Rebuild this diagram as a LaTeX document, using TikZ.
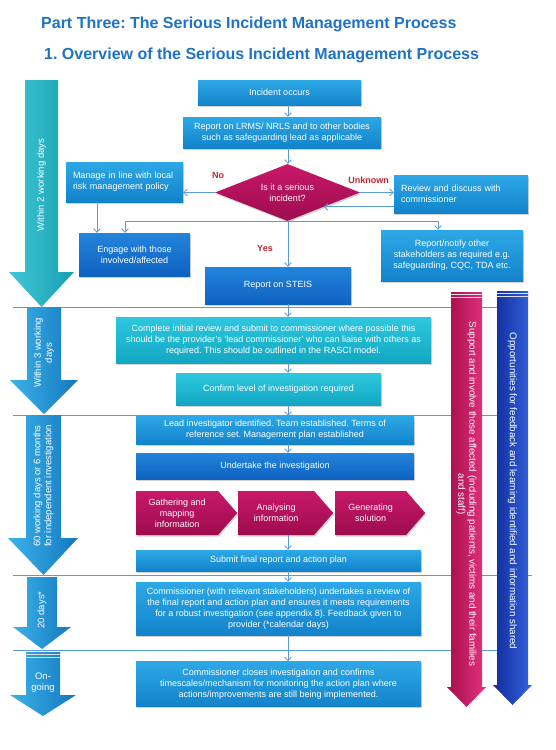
\documentclass[tikz,border=0pt]{standalone}
\usepackage{fontspec}
\setmainfont{Liberation Sans}
\usepackage{tikz}
\usetikzlibrary{positioning,shapes.geometric,shapes.symbols,arrows.meta,shadows}
\definecolor{SITitle}{HTML}{1F73C4}
\definecolor{SILine}{HTML}{5B9BD5}
\definecolor{SIRed}{HTML}{C0282D}
\definecolor{SIBlueTop}{HTML}{2DA8E6}
\definecolor{SIBlueBot}{HTML}{1283CB}
\definecolor{SIDeepTop}{HTML}{2384DC}
\definecolor{SIDeepBot}{HTML}{0E62C0}
\definecolor{SITealTop}{HTML}{2EC8DE}
\definecolor{SITealBot}{HTML}{12A6C2}
\definecolor{SICrimTop}{HTML}{C8186A}
\definecolor{SICrimBot}{HTML}{9E0C4C}
\definecolor{SIArrTealL}{HTML}{40C6D6}
\definecolor{SIArrTealR}{HTML}{17A0B3}
\definecolor{SIArrBlueL}{HTML}{3CB2E8}
\definecolor{SIArrBlueR}{HTML}{1478C0}
\definecolor{SIMagL}{HTML}{A50D4A}
\definecolor{SIMagM}{HTML}{B81254}
\definecolor{SIMagR}{HTML}{E5327F}
\definecolor{SIRoyL}{HTML}{112C9C}
\definecolor{SIRoyM}{HTML}{1838AE}
\definecolor{SIRoyR}{HTML}{3463DE}
\frenchspacing

\begin{document}
\begin{tikzpicture}[x=1pt,y=-1pt,
    box/.style={rectangle, draw=none, text=white, align=center, inner sep=2pt,
      font=\fontsize{9}{11}\selectfont,
      drop shadow={shadow xshift=1pt,shadow yshift=-1.5pt,opacity=0.35}},
    bluebox/.style={box, top color=SIBlueTop, bottom color=SIBlueBot},
    deepbox/.style={box, top color=SIDeepTop, bottom color=SIDeepBot},
    tealbox/.style={box, top color=SITealTop, bottom color=SITealBot},
    crimbox/.style={box, top color=SICrimTop, bottom color=SICrimBot},
    chevron/.style={crimbox, signal, signal to=east, signal pointer angle=98,
      minimum height=44pt, anchor=west},
    flow/.style={draw=SILine, line width=0.8pt,
      -{Straight Barb[length=3.5pt,width=6.5pt]}},
    answer/.style={font=\fontsize{9}{10}\selectfont\bfseries, text=SIRed},
    sidetext/.style={text=white, align=center, inner sep=0pt,
      font=\fontsize{9.5}{11}\selectfont}
  ]
    \fill[white] (0,0) rectangle (556,750);
    \useasboundingbox (0,0) rectangle (556,750);

    \node[anchor=west, inner sep=0pt, text=SITitle,
      font=\fontsize{16}{18}\selectfont\bfseries] (title) at (41,24)
      {Part Three: The Serious Incident Management Process};
    \node[anchor=west, inner sep=0pt, text=SITitle,
      font=\fontsize{16}{18}\selectfont\bfseries] (subtitle) at (44,55)
      {1. Overview of the Serious Incident Management Process};

    % stage dividers
    \foreach \y/\e in {307/513,415/513,575/532,650/513}{
      \draw[SILine, line width=0.8pt] (13,\y)--(\e,\y);
    }

    % time arrows on the left
    \foreach \l/\r/\t/\s/\hl/\hr/\tip/\cl/\cr in {
        25/58/80/272/9/74/307/SIArrTealL/SIArrTealR,
        27/61/307/380/10/78/414/SIArrBlueL/SIArrBlueR,
        26/61/415/538/8/78/575/SIArrBlueL/SIArrBlueR,
        27/57/577/627/13/71/649/SIArrBlueL/SIArrBlueR,
        26/60/652/695/10/76/716/SIArrBlueL/SIArrBlueR}{
      \shade[left color=\cl, right color=\cr]
        (\l,\t)--(\r,\t)--(\r,\s)--(\hr,\s)--({(\l+\r)/2},\tip)
        --(\hl,\s)--(\l,\s)--cycle;
    }
    \foreach \y in {654,657}{
      \draw[white!75!gray, line width=1pt] (26,\y)--(60,\y);
    }
    \node[sidetext, rotate=90] (wk2) at (41.5,185) {Within 2 working days};
    \node[sidetext, rotate=90] (wk3) at (44,353) {Within 3 working\\days};
    \node[sidetext, rotate=90] (wk60) at (43.5,486)
      {60 working days or 6 months\\for independent investigation};
    \node[sidetext, rotate=90] (d20) at (42,610) {20 days*};
    \node[sidetext] (ongo) at (43,683) {On-\\going};

    % long arrows on the right
    \shade[left color=SIMagL, middle color=SIMagM, right color=SIMagR]
      (451,292)--(482,292)--(482,687)--(486,687)--(466.5,707)
      --(447,687)--(451,687)--cycle;
    \shade[left color=SIRoyL, middle color=SIRoyM, right color=SIRoyR]
      (497,291)--(528,291)--(528,685)--(532,685)--(512.5,705)
      --(493,685)--(497,685)--cycle;
    \foreach \y in {294,297}{
      \draw[white!75!gray, line width=1pt] (451,\y)--(482,\y);
      \draw[white!75!gray, line width=1pt] (497,\y-1)--(528,\y-1);
    }
    \node[sidetext, rotate=-90, font=\fontsize{9.8}{11}\selectfont] (support) at (466.5,494)
      {Support and involve those affected (including patients, victims and their families\\and staff)};
    \node[sidetext, rotate=-90, font=\fontsize{9.8}{11}\selectfont] (learn) at (512.5,491)
      {Opportunities for feedback and learning identified and information shared};

    % flow boxes
    \coordinate (spine) at (288,0);
    \node[bluebox, minimum width=163pt, minimum height=25pt] (inc) at (279.5,92.5)
      {Incident occurs};
    \node[bluebox, minimum width=198pt, minimum height=31pt] (lrms) at (282,132.5)
      {Report on LRMS/ NRLS and to other bodies\\such as safeguarding lead as applicable};
    \node[crimbox, diamond, aspect=2.5, inner sep=0pt, minimum width=145pt,
      minimum height=57pt] (dia) at (287.5,192.5) {Is it a serious\\incident?};
    \node[bluebox, align=left, inner xsep=7pt, text width=103pt,
      minimum height=40pt] (manage) at (124.5,182)
      {Manage in line with local\\risk management policy};
    \node[bluebox, align=left, inner xsep=7pt, text width=120pt,
      minimum height=38pt] (rdisc) at (461,194)
      {Review and discuss with\\commissioner};
    \node[deepbox, minimum width=111pt, minimum height=43pt] (engage) at (134.5,254.5)
      {Engage with those\\involved/affected};
    \node[bluebox, minimum width=142pt, minimum height=51pt] (notify) at (452,255.5)
      {Report/notify other\\stakeholders as required e.g.\\safeguarding, CQC, TDA etc.};
    \node[deepbox, minimum width=146pt, minimum height=37pt] (steis) at (278,285.5)
      {Report on STEIS};
    \node[tealbox, minimum width=315pt, minimum height=46pt] (complete) at (273.5,340)
      {Complete initial review and submit to commissioner where possible this\\
       should be the provider's `lead commissioner' who can liaise with others as\\
       required. This should be outlined in the RASCI model.};
    \node[tealbox, minimum width=205pt, minimum height=32pt] (confirm) at (278.5,389)
      {Confirm level of investigation required};
    \node[bluebox, minimum width=278pt, minimum height=28pt] (lead) at (275,430)
      {Lead investigator identified. Team established. Terms of\\
       reference set. Management plan established};
    \node[deepbox, minimum width=278pt, minimum height=26pt] (undertake) at (275,466)
      {Undertake the investigation};
    \node[chevron, minimum width=101pt] (chevA) at (136,513)
      {Gathering and\\mapping\\information};
    \node[chevron, minimum width=95pt] (chevB) at (238,513)
      {Analysing\\information};
    \node[chevron, minimum width=90pt] (chevC) at (335,513)
      {Generating\\solution};
    \node[bluebox, minimum width=285pt, minimum height=21pt] (submit) at (278.5,560.5)
      {Submit final report and action plan};
    \node[bluebox, minimum width=285pt, minimum height=53pt] (commrev) at (278.5,608.5)
      {Commissioner (with relevant stakeholders) undertakes a review of\\
       the final report and action plan and ensures it meets requirements\\
       for a robust investigation (see appendix 8). Feedback given to\\
       provider (*calendar days)};
    \node[bluebox, minimum width=285pt, minimum height=45pt] (closes) at (278.5,684)
      {Commissioner closes investigation and confirms\\
       timescales/mechanism for monitoring the action plan where\\
       actions/improvements are still being implemented.};

    % connectors
    \foreach \a/\b in {inc/lrms,lrms/dia,dia/steis,steis/complete,complete/confirm,
        confirm/lead,lead/undertake,chevB/submit,submit/commrev,commrev/closes}{
      \draw[flow] (\a.south -| spine)--(\b.north -| spine);
    }
    \draw[flow] (dia.west)--(dia.west -| manage.east);
    \draw[flow] (dia.east)--(dia.east -| rdisc.west);
    \draw[flow] (dia.south east -| rdisc.west)--(dia.south east);
    \draw[flow] (dia.south) -| ([xshift=-9.5pt]engage.north);
    \draw[flow] (dia.south) -| ([xshift=-14pt]notify.north);
    \draw[flow] ([xshift=-27.5pt]manage.south)--([xshift=-27.5pt]manage.south |- engage.north);

    \node[answer] (no) at (218,175) {No};
    \node[answer] (unknown) at (368.5,180) {Unknown};
    \node[answer] (yes) at (265,248) {Yes};
\end{tikzpicture}
\end{document}
